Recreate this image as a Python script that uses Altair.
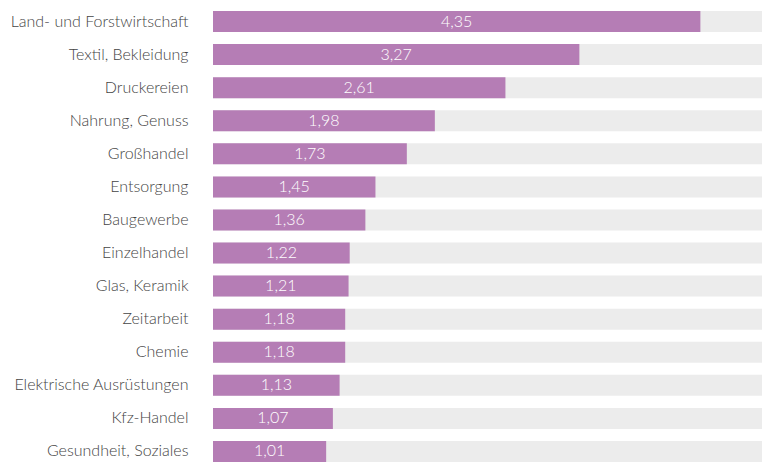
import altair as alt
import pandas as pd

categories = ["Land- und Forstwirtschaft", "Textil, Bekleidung", "Druckereien",
              "Nahrung, Genuss", "Großhandel", "Entsorgung", "Baugewerbe",
              "Einzelhandel", "Glas, Keramik", "Zeitarbeit", "Chemie",
              "Elektrische Ausrüstungen", "Kfz-Handel", "Gesundheit, Soziales"]
values = [4.35, 3.27, 2.61, 1.98, 1.73, 1.45, 1.36, 1.22, 1.21, 1.18, 1.18, 1.13, 1.07, 1.01]
domain_max = 4.9

df = pd.DataFrame({
    "cat": categories,
    "val": values,
    "bg": [domain_max] * len(values),
    "lbl": [f"{v:.2f}".replace(".", ",") for v in values],
    "half": [v / 2 for v in values],
})

FONT = "Lato"
yenc = alt.Y("cat:N", sort=categories, title=None,
             scale=alt.Scale(paddingInner=0.3644, paddingOuter=0.0303),
             axis=alt.Axis(ticks=False, domain=False, labelPadding=25,
                           labelFontSize=16, labelColor="#444444",
                           labelFont=FONT, labelFontWeight=300, labelLimit=300))
xscale = alt.Scale(domain=[0, domain_max], nice=False, zero=True)

base = alt.Chart(df)
bg = base.mark_bar(color="#ECECEC").encode(
    y=yenc, x=alt.X("bg:Q", scale=xscale, axis=None))
bars = base.mark_bar(color="#B57DB5").encode(
    y=yenc, x=alt.X("val:Q", scale=xscale, axis=None))
txt = base.mark_text(color="white", font=FONT, fontSize=16, fontWeight=300,
                     align="center", baseline="middle").encode(
    y=yenc, x=alt.X("half:Q", scale=xscale), text="lbl:N")

chart = alt.layer(bg, bars, txt).properties(
    width=549, height=453,
    autosize=alt.AutoSizeParams(type="none"),
    padding={"left": 213, "top": 10, "right": 0, "bottom": 0},
).configure_view(stroke=None)

chart.save("out.html", embed_options={"renderer": "svg", "actions": False})
